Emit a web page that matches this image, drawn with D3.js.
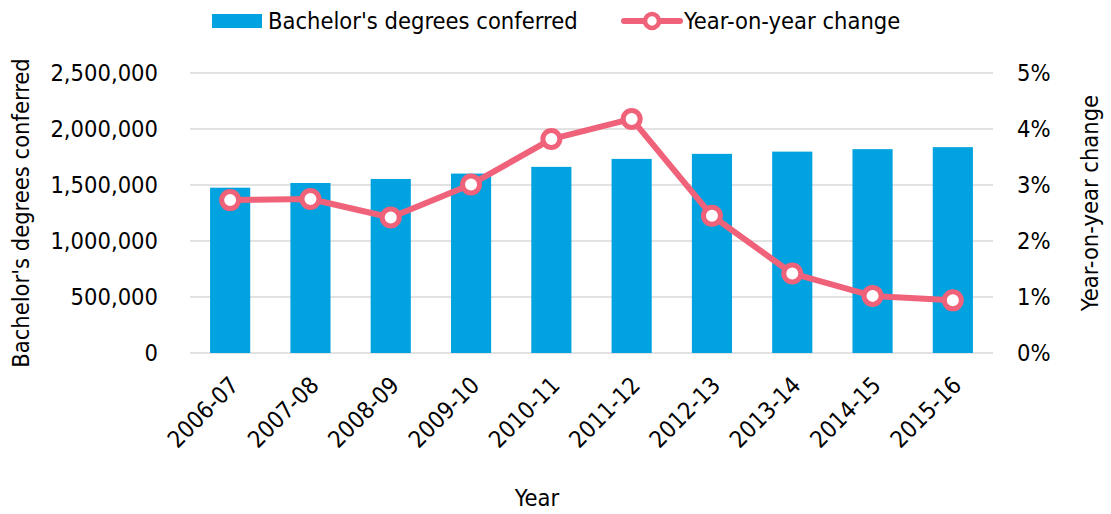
<!DOCTYPE html>
<html>
<head>
<meta charset="utf-8">
<script src="https://cdn.jsdelivr.net/npm/d3@7"></script>
<style>
  body { margin: 0; background: #fff; }
  svg { display: block; }
</style>
</head>
<body>
<svg id="chart" width="1111" height="514"></svg>
<script>
// data
const years = ['2006-07', '2007-08', '2008-09', '2009-10', '2010-11', '2011-12', '2012-13', '2013-14', '2014-15', '2015-16']
const degrees = [1476000, 1518000, 1554000, 1602000, 1662000, 1733000, 1778000, 1798000, 1820000, 1838000]
const yoyChange = [0.0273, 0.0275, 0.0242, 0.0301, 0.0382, 0.0418, 0.0245, 0.0142, 0.0102, 0.0094]
const leftTicks = [0, 500000, 1000000, 1500000, 2000000, 2500000]
const rightTicks = [0, 0.01, 0.02, 0.03, 0.04, 0.05]

const width = 1111
const height = 514
const margin = { top: 73, right: 118, bottom: 161, left: 190 }
const barColor = '#00A3E0'
const lineColor = '#F0627A'
const gridColor = '#D9D9D9'
const font = '"DejaVu Sans Condensed", "DejaVu Sans", Verdana, sans-serif'
const fontSize = 23.5

const svg = d3.select('#chart')
  .attr('font-family', font)
  .attr('font-size', fontSize)
  .attr('fill', '#000')

const x = d3.scaleBand()
  .domain(years)
  .range([margin.left, width - margin.right])
  .paddingInner(0.5)
  .paddingOuter(0.25)

const yLeft = d3.scaleLinear()
  .domain([0, 2500000])
  .range([height - margin.bottom, margin.top])

const yRight = d3.scaleLinear()
  .domain([0, 0.05])
  .range([height - margin.bottom, margin.top])

// gridlines
svg.append('g')
  .attr('id', 'grid')
  .selectAll('line')
  .data(leftTicks)
  .join('line')
  .attr('x1', margin.left)
  .attr('x2', width - margin.right)
  .attr('y1', (d) => yLeft(d))
  .attr('y2', (d) => yLeft(d))
  .attr('stroke', gridColor)
  .attr('stroke-width', 1.5)

// left axis labels
const fmt = d3.format(',')
svg.append('g')
  .selectAll('text')
  .data(leftTicks)
  .join('text')
  .attr('x', margin.left - 32)
  .attr('y', (d) => yLeft(d))
  .attr('dy', '0.35em')
  .attr('text-anchor', 'end')
  .text((d) => fmt(d))

// right axis labels
svg.append('g')
  .selectAll('text')
  .data(rightTicks)
  .join('text')
  .attr('x', width - margin.right + 24)
  .attr('y', (d) => yRight(d))
  .attr('dy', '0.35em')
  .attr('text-anchor', 'start')
  .text((d) => d3.format('.0%')(d))

// bars
svg.append('g')
  .attr('id', 'bars')
  .selectAll('rect')
  .data(years)
  .join('rect')
  .attr('x', (d) => x(d))
  .attr('width', x.bandwidth())
  .attr('y', (d, i) => yLeft(degrees[i]))
  .attr('height', (d, i) => yLeft(0) - yLeft(degrees[i]))
  .attr('fill', barColor)

// x axis labels, rotated
svg.append('g')
  .selectAll('text')
  .data(years)
  .join('text')
  .attr('transform', (d) => `translate(${x(d) + x.bandwidth() / 2 + 4},${yLeft(0) + 28}) rotate(-45)`)
  .attr('text-anchor', 'end')
  .attr('dy', '0.35em')
  .text((d) => d)

// line + markers
const line = d3.line()
  .x((d, i) => x(years[i]) + x.bandwidth() / 2)
  .y((d) => yRight(d))

svg.append('path')
  .datum(yoyChange)
  .attr('d', line)
  .attr('fill', 'none')
  .attr('stroke', lineColor)
  .attr('stroke-width', 6)
  .attr('stroke-linejoin', 'round')

svg.append('g')
  .selectAll('circle')
  .data(yoyChange)
  .join('circle')
  .attr('cx', (d, i) => x(years[i]) + x.bandwidth() / 2)
  .attr('cy', (d) => yRight(d))
  .attr('r', 8.5)
  .attr('fill', '#fff')
  .attr('stroke', lineColor)
  .attr('stroke-width', 5)

// axis titles
svg.append('text')
  .attr('transform', `translate(29,${(margin.top + height - margin.bottom) / 2}) rotate(-90)`)
  .attr('text-anchor', 'middle')
  .text("Bachelor's degrees conferred")

svg.append('text')
  .attr('transform', `translate(1098,203) rotate(-90)`)
  .attr('text-anchor', 'middle')
  .text('Year-on-year change')

svg.append('text')
  .attr('x', 537)
  .attr('y', 506)
  .attr('text-anchor', 'middle')
  .text('Year')

// legend
const legend = svg.append('g').attr('id', 'legend')
legend.append('rect')
  .attr('x', 212)
  .attr('y', 14)
  .attr('width', 50)
  .attr('height', 14)
  .attr('fill', barColor)
legend.append('text')
  .attr('x', 268)
  .attr('y', 21)
  .attr('dy', '0.35em')
  .text("Bachelor's degrees conferred")

legend.append('line')
  .attr('x1', 624)
  .attr('x2', 680)
  .attr('y1', 21)
  .attr('y2', 21)
  .attr('stroke', lineColor)
  .attr('stroke-width', 6)
  .attr('stroke-linecap', 'round')
legend.append('circle')
  .attr('cx', 652)
  .attr('cy', 21)
  .attr('r', 7)
  .attr('fill', '#fff')
  .attr('stroke', lineColor)
  .attr('stroke-width', 4.5)
legend.append('text')
  .attr('x', 684)
  .attr('y', 21)
  .attr('dy', '0.35em')
  .text('Year-on-year change')
</script>
</body>
</html>
